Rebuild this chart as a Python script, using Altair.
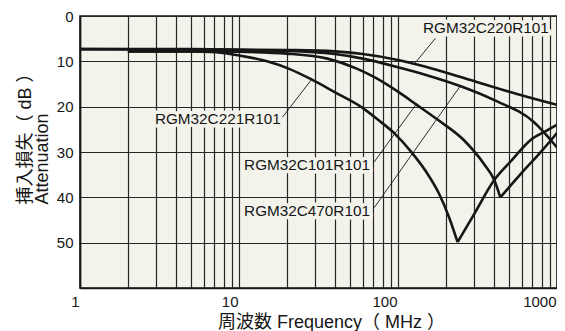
import altair as alt
import pandas as pd

# ---------------- data ----------------
series_names = ["RGM32C220R101", "RGM32C470R101", "RGM32C101R101", "RGM32C221R101"]

# RGM32C220R101 (22 pF)
f_220 = [1, 5, 20, 40, 60, 100, 180, 316, 560, 1000]
a_220 = [7.3, 7.3, 7.5, 7.8, 8.4, 9.7, 12.0, 14.6, 17.2, 19.6]

# RGM32C470R101 (47 pF)
f_470 = [1, 5, 20, 40, 60, 100, 150, 248, 400, 720, 1000]
a_470 = [7.3, 7.4, 7.7, 8.4, 9.4, 11.3, 13.0, 15.5, 18.5, 23.5, 29.0]

# RGM32C101R101 (100 pF) : falling part, then rising part after the dip
f_101_fall = [2, 5, 10, 20, 36, 55, 72, 100, 130, 178, 260, 350, 403, 440]
a_101_fall = [7.8, 7.8, 7.9, 8.3, 9.4, 11.6, 13.6, 16.7, 19.5, 22.9, 27.4, 32.8, 36.2, 40.0]
f_101_rise = [440, 600, 800, 1000]
a_101_rise = [40.0, 34.6, 29.8, 25.8]

# RGM32C221R101 (220 pF)
f_221_fall = [2, 5, 7.2, 10, 15, 20.5, 28.6, 40, 58.9, 75, 95.7, 120, 150, 180, 210, 237]
a_221_fall = [7.8, 7.8, 8.0, 8.7, 10.0, 11.6, 14.0, 16.8, 20.1, 22.9, 26.0, 29.8, 34.3, 39.0, 44.5, 49.9]
f_221_rise = [237, 300, 403, 520, 680, 850, 1000]
a_221_rise = [49.9, 43.8, 36.2, 31.8, 27.4, 25.4, 24.0]

# annotation labels (text anchor at right end) and leader lines
label_text = ["RGM32C220R101", "RGM32C221R101", "RGM32C101R101", "RGM32C470R101"]
label_f = [888, 18.3, 66.6, 66.6]
label_a = [2.6, 22.7, 32.9, 43.1]
leader_f1 = [172, 18.8, 70.8, 70.8]
leader_a1 = [4.9, 22.3, 32.2, 42.3]
leader_f2 = [128, 28.6, 130, 248]
leader_a2 = [10.4, 14.0, 19.5, 15.3]

x_ticks = [m * d for d in (1, 10, 100) for m in range(1, 10)] + [1000]
y_ticks = list(range(0, 61, 5))

# ---------------- build tables ----------------
rows = []
def add(name, seg, fs, As):
    for f, a in zip(fs, As):
        rows.append({"series": name, "seg": name + seg, "freq": f, "att": a})

add("RGM32C220R101", "a", f_220, a_220)
add("RGM32C470R101", "a", f_470, a_470)
add("RGM32C101R101", "a", f_101_fall, a_101_fall)
add("RGM32C101R101", "b", f_101_rise, a_101_rise)
add("RGM32C221R101", "a", f_221_fall, a_221_fall)
add("RGM32C221R101", "b", f_221_rise, a_221_rise)
curves = pd.DataFrame(rows)

labels = pd.DataFrame({"text": label_text, "freq": label_f, "att": label_a})
leaders = pd.DataFrame({"f1": leader_f1, "a1": leader_a1, "f2": leader_f2, "a2": leader_a2})

BG = "#f3f3ec"
INK = "#161616"
GRID = "#262626"
FONT = "Liberation Sans"
TITLE_FONT = "Liberation Sans, Noto Sans CJK JP"

x_scale = alt.Scale(type="log", domain=[1, 1000], nice=False)
y_scale = alt.Scale(domain=[0, 60], reverse=True, nice=False, zero=False)

x_axis = alt.Axis(
    values=x_ticks,
    labelExpr="(datum.value == 1 || datum.value == 10 || datum.value == 100 || datum.value == 1000) ? datum.value : ''",
    grid=True, gridColor=GRID, gridWidth=1.2, gridOpacity=1,
    ticks=False, domainColor=INK, domainWidth=1.6,
    labelFont=FONT, labelFontSize=15, labelColor=INK,
    labelAlign="right", labelOffset=-1, labelPadding=6, labelOverlap=False, labelFlush=False,
    title="周波数 Frequency（ MHz ）", titleFont=TITLE_FONT, titleFontSize=18,
    titleFontWeight="normal", titleColor=INK,
    titleX=251, titleY=39, titleAlign="center", titleBaseline="alphabetic",
)
y_axis = alt.Axis(
    values=y_ticks,
    labelExpr="(datum.value % 10 == 0 && datum.value < 60) ? datum.value : ''",
    grid=True, gridColor=GRID, gridWidth=1.2, gridOpacity=1,
    ticks=False, domainColor=INK, domainWidth=1.6,
    labelFont=FONT, labelFontSize=15, labelColor=INK, labelPadding=7,
    labelOverlap=False, labelFlush=False,
    title=["挿入損失（ dB ）", "Attenuation"], titleFont=TITLE_FONT, titleFontSize=18,
    titleFontWeight="normal", titleColor=INK, titleAngle=270,
    titleX=-50, titleY=188, titleAlign="left", titleBaseline="alphabetic", titleLineHeight=17,
)

base_x = alt.X("freq:Q", scale=x_scale, axis=x_axis)
base_y = alt.Y("att:Q", scale=y_scale, axis=y_axis)

lines = alt.Chart(curves).mark_line(
    color=INK, strokeWidth=2.6, interpolate="monotone", clip=True
).encode(x=base_x, y=base_y, detail="seg:N")

leader = alt.Chart(leaders).mark_rule(color=INK, strokeWidth=0.9).encode(
    x=alt.X("f1:Q", scale=x_scale), y=alt.Y("a1:Q", scale=y_scale),
    x2="f2:Q", y2="a2:Q",
)

halo = alt.Chart(labels).mark_text(
    align="right", baseline="middle", font=FONT, fontSize=15.3,
    stroke=BG, strokeWidth=7, strokeJoin="round", color=BG,
).encode(x=alt.X("freq:Q", scale=x_scale), y=alt.Y("att:Q", scale=y_scale), text="text:N")

text = alt.Chart(labels).mark_text(
    align="right", baseline="middle", font=FONT, fontSize=15.3, color=INK,
).encode(x=alt.X("freq:Q", scale=x_scale), y=alt.Y("att:Q", scale=y_scale), text="text:N")

chart = alt.layer(lines, leader, halo, text).properties(
    width=477, height=272,
    autosize=alt.AutoSizeParams(type="none"),
    padding={"left": 72, "top": 8, "right": 0, "bottom": 43},
    background="white",
).configure_view(fill=BG, stroke=INK, strokeWidth=1.6)

chart.save("out.html", embed_options={"renderer": "svg", "actions": False})
